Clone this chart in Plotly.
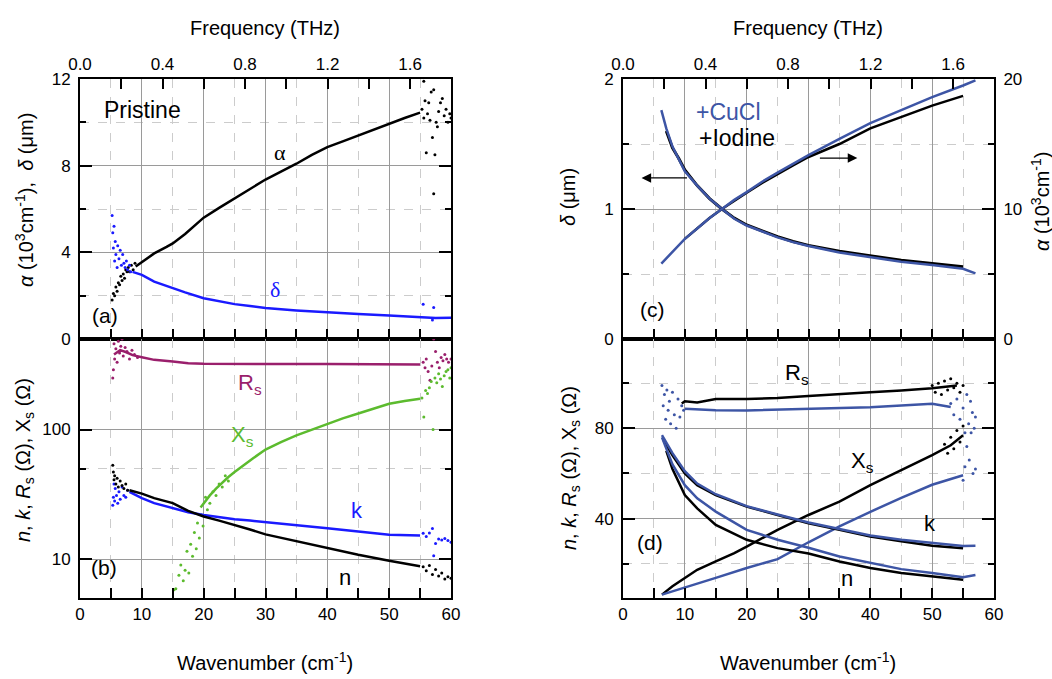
import plotly.graph_objects as go

W, H = 1052, 679
FREQ_PER_WN = 0.029979

# ---------------- Panel (a): pristine alpha, delta ----------------
a_alpha_x = [9, 10, 12, 14, 15, 17, 20, 22.5, 25, 27.5, 30, 32.5, 35, 37.5, 40, 42.5, 45, 47.5, 50, 52.5, 55]
a_alpha_y = [3.35, 3.55, 3.95, 4.25, 4.41, 4.85, 5.6, 6.05, 6.5, 6.95, 7.36, 7.72, 8.09, 8.5, 8.86, 9.12, 9.39, 9.68, 9.93, 10.2, 10.45]
a_alpha_nx = [5.2, 5.4, 5.6, 5.8, 6.0, 6.2, 6.4, 6.6, 6.8, 7.0, 7.2, 7.4, 7.6, 7.8, 8.0, 8.3, 8.6, 8.9,
              55.3, 55.6, 55.8, 56.0, 56.2, 56.4, 56.6, 56.8, 57.0, 57.2, 57.4, 57.6, 57.8, 58.0, 58.3, 58.6, 58.9, 59.2, 59.5, 59.8, 60.0, 55.6, 57.2]
a_alpha_ny = [1.8, 2.1, 2.0, 2.4, 2.2, 2.6, 2.5, 2.9, 2.7, 3.0, 2.8, 3.2, 3.1, 3.3, 3.1, 3.4, 3.2, 3.5,
              10.6, 10.2, 11.0, 8.6, 10.4, 10.9, 10.1, 11.4, 9.3, 6.7, 8.5, 10.0, 9.8, 10.5, 10.9, 11.1, 10.3, 10.6, 10.0, 10.4, 10.2, 11.9, 11.5]
a_delta_x = [8.5, 10, 12, 14, 15, 17, 20, 22.5, 25, 27.5, 30, 35, 40, 45, 50, 55, 57.5, 60]
a_delta_y = [3.1, 2.96, 2.65, 2.45, 2.34, 2.15, 1.88, 1.73, 1.61, 1.52, 1.43, 1.32, 1.23, 1.15, 1.09, 1.03, 0.97, 0.98]
a_delta_nx = [5.2, 5.3, 5.4, 5.5, 5.6, 5.7, 5.8, 6.0, 6.1, 6.3, 6.5, 6.7, 6.9, 7.1, 7.3, 7.5, 7.7, 8.0, 8.2, 55.5, 57.2, 57.0]
a_delta_ny = [5.7, 4.9, 4.2, 5.2, 3.6, 4.5, 3.9, 3.3, 4.3, 3.7, 4.1, 3.4, 3.9, 3.5, 3.3, 3.6, 3.2, 3.4, 3.1, 1.6, 1.45, 0.88]

# ---------------- Panel (b): pristine n, k, Rs, Xs ----------------
b_rs_x = [5.5, 6.5, 7.5, 8.5, 10, 12, 15, 17.5, 20, 25, 30, 35, 40, 45, 50, 55]
b_rs_y = [380, 410, 395, 375, 362, 345, 335, 325, 322, 320, 320, 320, 320, 320, 318, 318]
b_rs_nx = [5.3, 5.4, 5.5, 5.6, 5.8, 6.0, 6.2, 6.4, 6.6, 6.8, 7.0, 7.3, 7.6, 8.0, 8.4, 8.8, 9.3,
           55.5, 55.8, 56.0, 56.3, 56.6, 56.9, 57.2, 57.5, 57.8, 58.1, 58.4, 58.7, 59.0, 59.3, 59.6, 60]
b_rs_ny = [250, 290, 460, 350, 420, 330, 480, 390, 440, 500, 370, 430, 400, 350, 410, 380, 360,
           330, 300, 350, 280, 240, 310, 500, 400, 330, 300, 360, 340, 380, 350, 330, 350]
b_xs_x = [19.5, 20, 21, 22, 23, 24, 25, 26, 27, 28, 30, 32.5, 35, 37.5, 40, 42.5, 45, 47.5, 50, 52.5, 55]
b_xs_y = [25, 27, 31, 35, 39, 43, 47, 51, 56, 60, 70, 80, 90, 100, 111, 122, 133, 145, 158, 166, 173]
b_xs_nx = [15.2, 15.5, 16.0, 16.3, 16.7, 17.0, 17.3, 17.6, 17.9, 18.2, 18.5, 18.8, 19.0, 19.3, 19.6, 19.9, 20.3, 20.6, 21.0, 21.5, 22.0, 22.5, 23, 23.5, 24,
           55.3, 55.6, 55.9, 56.2, 56.5, 56.8, 57.1, 57.4, 57.7, 58.0, 58.3, 58.6, 58.9, 59.2, 59.5, 59.8, 60.0]
b_xs_ny = [5.8, 5.9, 7.5, 9.0, 6.8, 8.2, 11.5, 7.8, 13, 10.5, 16, 12, 19, 14.5, 22, 18, 30, 24, 27, 33, 31, 38, 36, 44, 40,
           175, 125, 200, 190, 210, 235, 100, 250, 230, 270, 245, 215, 260, 280, 290, 250, 300]
b_k_x = [8, 10, 12, 15, 17.5, 20, 22.5, 25, 27.5, 30, 35, 40, 45, 50, 55]
b_k_y = [33, 29.5, 27, 24.7, 23, 21.9, 21, 20.3, 19.8, 19.3, 18.3, 17.3, 16.3, 15.4, 15.2]
b_k_nx = [5.3, 5.4, 5.5, 5.6, 5.7, 5.9, 6.1, 6.3, 6.5, 6.8, 7.1, 7.4, 7.7,
          55.5, 56, 56.5, 57, 57.2, 57.5, 58, 58.5, 59, 59.5, 60]
b_k_ny = [26, 30, 38, 28, 35, 31, 27, 33, 29, 36, 31, 30, 34,
          15.8, 14.9, 15.9, 17.2, 10.6, 13.2, 14.3, 14.0, 14.4, 13.9, 13.5]
b_n_x = [8, 10, 12, 15, 17.5, 20, 22.5, 25, 27.5, 30, 35, 40, 45, 50, 55]
b_n_y = [34, 32, 29.5, 27, 23.5, 21.3, 19.8, 18.4, 16.9, 15.5, 13.7, 12.2, 10.8, 9.7, 8.8]
b_n_nx = [5.3, 5.4, 5.5, 5.6, 5.8, 6.0, 6.2, 6.5, 6.8, 7.1, 7.4, 7.7,
          55.5, 56, 56.5, 57, 57.5, 58, 58.5, 59, 59.5, 60]
b_n_ny = [53, 47, 41, 44, 38, 42, 36, 40, 37, 35, 38, 34,
          8.7, 8.1, 8.9, 7.6, 8.3, 7.4, 7.8, 7.0, 7.3, 7.1]

# ---------------- Panel (c): doped delta (left) and alpha (right) ----------------
c_delta_io_x = [7, 8, 9, 10, 12, 14, 16, 18, 20, 22.5, 25, 27.5, 30, 35, 40, 45, 50, 55]
c_delta_io_y = [1.6, 1.47, 1.39, 1.3, 1.18, 1.08, 1.0, 0.93, 0.877, 0.83, 0.787, 0.75, 0.72, 0.675, 0.638, 0.605, 0.58, 0.555]
c_delta_cu_x = [6.2, 7, 8, 9, 10, 12, 14, 16, 18, 20, 22.5, 25, 27.5, 30, 35, 40, 45, 50, 55, 57]
c_delta_cu_y = [1.76, 1.62, 1.48, 1.38, 1.29, 1.18, 1.08, 1.0, 0.925, 0.873, 0.825, 0.782, 0.745, 0.715, 0.665, 0.628, 0.595, 0.57, 0.54, 0.505]
c_alpha_cu_x = [6.2, 8, 10, 12, 14, 16, 18, 20, 22.5, 25, 27.5, 30, 35, 40, 45, 50, 55, 57]
c_alpha_cu_y = [5.8, 6.7, 7.7, 8.5, 9.3, 10.0, 10.7, 11.3, 12.1, 12.8, 13.5, 14.15, 15.4, 16.6, 17.6, 18.6, 19.5, 19.9]
c_alpha_io_x = [10, 12, 14, 16, 18, 20, 22.5, 25, 27.5, 30, 35, 40, 45, 50, 55]
c_alpha_io_y = [7.7, 8.5, 9.3, 10.0, 10.65, 11.25, 12.0, 12.7, 13.35, 14.0, 15.0, 16.2, 17.1, 17.95, 18.7]

# ---------------- Panel (d): doped n, k, Rs, Xs ----------------
d_rs_io_x = [9.5, 10, 12, 15, 20, 25, 30, 35, 40, 45, 50, 54]
d_rs_io_y = [91, 92, 91.5, 93, 93, 93.4, 94.3, 95.3, 96, 96.8, 97.8, 99]
d_rs_cu_x = [10, 15, 20, 25, 30, 40, 50, 53]
d_rs_cu_y = [88.7, 88, 87.9, 88.3, 88.7, 89.4, 90.9, 89.5]
d_rs_cu_nx = [6.3, 6.5, 6.7, 6.9, 7.1, 7.3, 7.5, 7.7, 8.0, 8.3, 8.6, 8.9, 9.2, 9.5, 9.8,
              53, 53.5, 54, 54.5, 55, 55.3, 55.6, 55.9, 56.2, 56.5, 56.8, 57]
d_rs_cu_ny = [99, 90, 95, 84, 97, 88, 92, 82, 96, 86, 80, 93, 85, 90, 88,
              91, 86, 93, 84, 89, 78, 95, 82, 92, 87, 80, 85]
d_rs_io_nx = [50, 50.5, 51, 51.5, 52, 52.5, 53, 53.5, 54, 54.5, 55]
d_rs_io_ny = [99, 96, 100, 95, 101, 97, 102, 98, 100, 96, 99]
d_xs_io_x = [6.3, 8, 10, 12, 15, 18, 20, 25, 30, 35, 40, 45, 50, 53, 55]
d_xs_io_y = [6.3, 10, 13.7, 17.3, 21, 24.7, 27.6, 35, 41.6, 47.5, 54.8, 61.4, 68.1, 72.5, 76.9]
d_xs_io_nx = [52, 52.5, 53, 53.5, 54, 54.5, 55]
d_xs_io_ny = [73, 69, 76, 71, 79, 74, 81]
d_xs_cu_x = [6.3, 10, 15, 20, 25, 30, 35, 40, 45, 50, 55]
d_xs_cu_y = [6.3, 9.3, 13.7, 18.1, 22, 29.5, 36.5, 43, 49.2, 55, 59.2]
d_xs_cu_nx = [55, 55.3, 55.6, 56, 56.3, 56.6, 57]
d_xs_cu_ny = [57, 63, 72, 66, 78, 60, 62]
d_k_io_x = [6.5, 8, 10, 12, 15, 20, 25, 30, 35, 40, 45, 50, 55]
d_k_io_y = [75, 68, 60, 54.8, 50.4, 45.3, 41.6, 37.9, 35, 32, 30, 28, 26.8]
d_k_cu_x = [6.3, 8, 10, 12, 15, 20, 25, 30, 35, 40, 45, 50, 55, 57]
d_k_cu_y = [77, 69, 61, 55.5, 50.8, 45.5, 41.8, 38.3, 35.4, 32.5, 30.6, 29.1, 27.9, 28]
d_n_io_x = [7, 8, 10, 12, 15, 20, 25, 30, 35, 40, 45, 50, 55]
d_n_io_y = [70, 62, 50.4, 44.5, 37.2, 30.6, 26.9, 24.5, 21, 18.1, 15.9, 14.4, 12.9]
d_n_cu_x = [6.3, 8, 10, 12, 15, 20, 25, 30, 35, 40, 45, 50, 55, 57]
d_n_cu_y = [76, 64, 54.8, 49, 43.1, 35, 30.6, 27.1, 23.2, 20.3, 17.6, 15.9, 14, 15]

# ---------------- styling ----------------
BLACK = "#000000"
BLUE = "#1a1aff"
NAVY = "#3d55a5"
PURPLE = "#9a1f6c"
GREEN = "#5cbb2e"
GRID = "#9a9a9a"
MINOR = "#cccccc"
FONT = "Liberation Sans, Arial, sans-serif"

LX = [80 / W, 451 / W]
RX = [623 / W, 994 / W]
TOPD = [1 - 339 / H, 1 - 79 / H]
BOTD = [1 - 598 / H, 1 - 339 / H]

fig = go.Figure()


def line(x, y, xa, ya, color, w=2.5):
    fig.add_trace(go.Scatter(x=x, y=y, mode="lines", line=dict(color=color, width=w),
                             xaxis=xa, yaxis=ya, hoverinfo="skip", showlegend=False))


def dots(x, y, xa, ya, color, s=3):
    fig.add_trace(go.Scatter(x=x, y=y, mode="markers", marker=dict(color=color, size=s),
                             xaxis=xa, yaxis=ya, hoverinfo="skip", showlegend=False))


# (a)
line(a_alpha_x, a_alpha_y, "x", "y", BLACK)
dots(a_alpha_nx, a_alpha_ny, "x", "y", BLACK)
line(a_delta_x, a_delta_y, "x", "y", BLUE)
dots(a_delta_nx, a_delta_ny, "x", "y", BLUE)
# (b)
line(b_rs_x, b_rs_y, "x2", "y2", PURPLE)
dots(b_rs_nx, b_rs_ny, "x2", "y2", PURPLE)
line(b_xs_x, b_xs_y, "x2", "y2", GREEN)
dots(b_xs_nx, b_xs_ny, "x2", "y2", GREEN)
line(b_k_x, b_k_y, "x2", "y2", BLUE)
dots(b_k_nx, b_k_ny, "x2", "y2", BLUE)
line(b_n_x, b_n_y, "x2", "y2", BLACK)
dots(b_n_nx, b_n_ny, "x2", "y2", BLACK)
# (c)
line(c_delta_io_x, c_delta_io_y, "x3", "y3", BLACK, 3)
line(c_delta_cu_x, c_delta_cu_y, "x3", "y3", NAVY)
line(c_alpha_io_x, c_alpha_io_y, "x3", "y5", BLACK)
line(c_alpha_cu_x, c_alpha_cu_y, "x3", "y5", NAVY)
# (d)
line(d_rs_io_x, d_rs_io_y, "x4", "y4", BLACK)
dots(d_rs_io_nx, d_rs_io_ny, "x4", "y4", BLACK)
line(d_rs_cu_x, d_rs_cu_y, "x4", "y4", NAVY)
dots(d_rs_cu_nx, d_rs_cu_ny, "x4", "y4", NAVY)
line(d_xs_io_x, d_xs_io_y, "x4", "y4", BLACK)
dots(d_xs_io_nx, d_xs_io_ny, "x4", "y4", BLACK)
line(d_xs_cu_x, d_xs_cu_y, "x4", "y4", NAVY)
dots(d_xs_cu_nx, d_xs_cu_ny, "x4", "y4", NAVY)
line(d_k_io_x, d_k_io_y, "x4", "y4", BLACK)
line(d_k_cu_x, d_k_cu_y, "x4", "y4", NAVY)
line(d_n_io_x, d_n_io_y, "x4", "y4", BLACK)
line(d_n_cu_x, d_n_cu_y, "x4", "y4", NAVY)
# invisible anchors for the frequency axes
fig.add_trace(go.Scatter(x=[0], y=[0], mode="markers", marker=dict(size=1, opacity=0),
                         xaxis="x5", yaxis="y", hoverinfo="skip", showlegend=False))
fig.add_trace(go.Scatter(x=[0], y=[0], mode="markers", marker=dict(size=1, opacity=0),
                         xaxis="x6", yaxis="y3", hoverinfo="skip", showlegend=False))

TICKFONT = dict(size=17, color="black", family=FONT)


def xaxis(domain, anchor, labels, mirror=False):
    return dict(domain=domain, anchor=anchor, range=[0, 60], tick0=0, dtick=10,
                showgrid=True, gridcolor=GRID, gridwidth=1, zeroline=False, automargin=False,
                ticks="inside", ticklen=10, tickwidth=1.5, tickcolor="black",
                showline=True, linecolor="black", linewidth=2, mirror=mirror,
                showticklabels=labels, tickfont=TICKFONT,
                minor=dict(tick0=0, dtick=5, showgrid=True, gridcolor=MINOR, griddash="dash",
                           gridwidth=1, ticks="inside", ticklen=10, tickcolor="black"))


def faxis(overlay, anchor):
    return dict(overlaying=overlay, anchor=anchor, side="top", range=[0, 60 * FREQ_PER_WN],
                tick0=0, dtick=0.4, tickformat=".1f", showgrid=False, zeroline=False,
                automargin=False,
                ticks="inside", ticklen=10, tickwidth=1.5, tickcolor="black",
                showline=True, linecolor="black", linewidth=2, tickfont=TICKFONT,
                minor=dict(tick0=0, dtick=0.2, ticks="inside", ticklen=10, tickcolor="black"))


def yaxis(domain, anchor, **kw):
    d = dict(domain=domain, anchor=anchor, showgrid=True, gridcolor=GRID, gridwidth=1,
             zeroline=False, automargin=False, ticks="inside", ticklen=12, tickwidth=1.5,
             tickcolor="black", showline=True, linecolor="black", linewidth=2, mirror="ticks",
             tickfont=TICKFONT, ticklabelstandoff=4)
    d.update(kw)
    return d


fig.update_layout(
    width=W, height=H, autosize=False,
    margin=dict(l=0, r=0, t=0, b=0, pad=0, autoexpand=False),
    paper_bgcolor="white", plot_bgcolor="white",
    font=dict(family=FONT, color="black"), showlegend=False,
    xaxis=xaxis(LX, "y", False),
    xaxis2=xaxis(LX, "y2", True, mirror=True),
    xaxis3=xaxis(RX, "y3", False),
    xaxis4=xaxis(RX, "y4", True, mirror=True),
    xaxis5=faxis("x", "y"),
    xaxis6=faxis("x3", "y3"),
    yaxis=yaxis(TOPD, "x", range=[0, 12], tick0=0, dtick=4,
                minor=dict(tick0=0, dtick=2, showgrid=True, gridcolor=MINOR, griddash="dash",
                           ticks="inside", ticklen=6, tickcolor="black")),
    yaxis2=yaxis(BOTD, "x2", type="log", range=[0.699, 2.699], tickmode="array",
                 tickvals=[10, 100], ticktext=["10", "100"],
                 minor=dict(tickmode="array", tickvals=[50], showgrid=True, gridcolor=MINOR,
                            griddash="dash", ticks="inside", ticklen=6, tickcolor="black")),
    yaxis3=yaxis(TOPD, "x3", range=[0, 2], tick0=0, dtick=1, mirror=True,
                 minor=dict(tick0=0, dtick=0.5, showgrid=True, gridcolor=MINOR, griddash="dash",
                            ticks="inside", ticklen=6, tickcolor="black")),
    yaxis4=yaxis(BOTD, "x4", range=[4.8, 119.6], tickmode="array", tickvals=[40, 80],
                 minor=dict(tickmode="array", tickvals=[20, 60, 100], showgrid=True,
                            gridcolor=MINOR, griddash="dash", ticks="inside", ticklen=6,
                            tickcolor="black")),
    yaxis5=dict(overlaying="y3", anchor="x3", side="right", range=[0, 20], tick0=0, dtick=10,
                showgrid=False, zeroline=False, automargin=False, ticks="inside", ticklen=12,
                tickwidth=1.5, tickcolor="black", showline=True, linecolor="black", linewidth=2,
                tickfont=TICKFONT, ticklabelstandoff=4,
                minor=dict(tick0=0, dtick=5, ticks="inside", ticklen=6, tickcolor="black")),
)


def ann(text, px, py, size=21, color="black", angle=0, family=FONT):
    fig.add_annotation(text=text, x=px / W, y=1 - py / H, xref="paper", yref="paper",
                       xanchor="center", yanchor="middle", showarrow=False, textangle=angle,
                       font=dict(size=size, color=color, family=family))


SERIF = "Liberation Serif, Times New Roman, serif"
ann("Frequency (THz)", 265, 28, 20)
ann("Frequency (THz)", 808, 28, 20)
ann("Wavenumber (cm<sup>-1</sup>)", 265, 661, 20)
ann("Wavenumber (cm<sup>-1</sup>)", 808, 661, 20)
ann("<i>α</i> (10<sup>3</sup>cm<sup>-1</sup>),  <i>δ</i> (μm)", 24, 200, 20, angle=-90)
ann("<i>n</i>, <i>k</i>, <i>R</i><sub>s</sub> (Ω), X<sub>s</sub> (Ω)", 24, 460, 20, angle=-90)
ann("<i>δ</i> (μm)", 568, 197, 20, angle=-90)
ann("<i>α</i> (10<sup>3</sup>cm<sup>-1</sup>)", 1040, 202, 20, angle=-90)
ann("<i>n</i>, <i>k</i>, <i>R</i><sub>s</sub> (Ω), X<sub>s</sub> (Ω)", 570, 468, 20, angle=-90)

ann("Pristine", 142, 110, 23)
ann("α", 280, 152, 22, BLACK, family=SERIF)
ann("δ", 275, 289, 22, BLUE, family=SERIF)
ann("(a)", 105, 315, 21)
ann("(b)", 104, 567, 21)
ann("(c)", 652, 310, 21)
ann("(d)", 650, 542, 21)
ann("R<sub>s</sub>", 250, 384, 22, PURPLE)
ann("X<sub>s</sub>", 242, 436, 22, GREEN)
ann("k", 357, 510, 22, BLUE)
ann("n", 345, 577, 22, BLACK)
ann("R<sub>s</sub>", 797, 374, 22, BLACK)
ann("X<sub>s</sub>", 862, 462, 22, BLACK)
ann("k", 930, 523, 22, BLACK)
ann("n", 847, 578, 22, BLACK)
ann("+CuCl", 728, 112, 23, NAVY)
ann("+Iodine", 737, 138, 23, BLACK)

# arrows in (c)
fig.add_annotation(x=3.0, y=1.239, ax=10.6, ay=1.239, xref="x3", yref="y3", axref="x3", ayref="y3",
                   showarrow=True, arrowhead=2, arrowsize=1.6, arrowwidth=1.2, arrowcolor="black", text="")
fig.add_annotation(x=37.9, y=1.392, ax=31.6, ay=1.392, xref="x3", yref="y3", axref="x3", ayref="y3",
                   showarrow=True, arrowhead=2, arrowsize=1.6, arrowwidth=1.2, arrowcolor="black", text="")

fig.write_html("out.html")
